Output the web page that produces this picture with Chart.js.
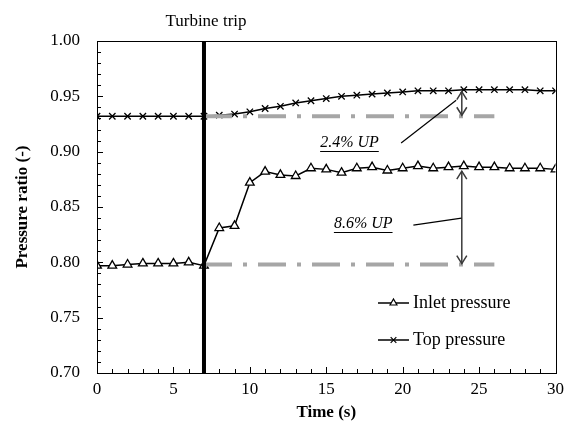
<!DOCTYPE html>
<html>
<head>
<meta charset="utf-8">
<script src="https://cdn.jsdelivr.net/npm/chart.js@4.4.1/dist/chart.umd.min.js"></script>
<style>
  html, body { margin: 0; padding: 0; background: #ffffff; }
  #wrap { width: 570px; height: 427px; position: relative; }
</style>
</head>
<body>
<div id="wrap"><canvas id="c" width="570" height="427"></canvas></div>
<script>
// ---- data ----
const timeSec = [0,1,2,3,4,5,6,7,8,9,10,11,12,13,14,15,16,17,18,19,20,21,22,23,24,25,26,27,28,29,30];
const inletPressure = [0.797,0.797,0.798,0.799,0.799,0.799,0.800,0.797,0.831,0.833,0.872,0.882,0.879,0.878,0.885,0.884,0.881,0.885,0.886,0.883,0.885,0.887,0.885,0.886,0.887,0.886,0.886,0.885,0.885,0.885,0.884];
const topPressure = [0.932,0.932,0.932,0.932,0.932,0.932,0.932,0.932,0.933,0.934,0.936,0.939,0.941,0.944,0.946,0.948,0.950,0.951,0.952,0.953,0.954,0.955,0.955,0.955,0.956,0.956,0.956,0.956,0.956,0.955,0.955];
const seriesNames = ["Inlet pressure", "Top pressure"];
const tripTime = 7;
const tripLabel = "Turbine trip";
const refStart = [7, 26];            // time span of the dash-dot reference lines
const refTop = 0.932;
const refInlet = 0.798;
const arrowTime = 24;
const upLabels = ["2.4% UP", "8.6% UP"];
const upLabelPos = [[14.6, 0.9078], [15.5, 0.8346]];     // [time, value] left edge / middle of each label
const leaderTop = [[19.9, 0.9078], [23.5, 0.9465]];
const leaderInlet = [[20.7, 0.8337], [23.85, 0.840]];
const xTickLabels = ["0","5","10","15","20","25","30"];
const yTickLabels = ["0.70","0.75","0.80","0.85","0.90","0.95","1.00"];

const pts = (xs, ys) => xs.map((x, i) => ({x: x, y: ys[i]}));
const SERIF = "'Liberation Serif', 'Times New Roman', serif";

const decor = {
  id: 'decor',
  afterDatasetsDraw(chart) {
    const ctx = chart.ctx, xs = chart.scales.x, ys = chart.scales.y, a = chart.chartArea;
    const X = v => xs.getPixelForValue(v), Y = v => ys.getPixelForValue(v);
    ctx.save();
    // frame
    ctx.strokeStyle = '#000'; ctx.lineWidth = 1;
    ctx.strokeRect(Math.round(a.left) + 0.5, Math.round(a.top) + 0.5, Math.round(a.right - a.left), Math.round(a.bottom - a.top));
    // inward ticks
    ctx.beginPath();
    for (let t = 0; t <= 30; t++) {
      const px = Math.round(X(t)) + 0.5, len = (t % 5 === 0) ? 6 : 4;
      ctx.moveTo(px, a.bottom); ctx.lineTo(px, a.bottom - len);
    }
    for (let k = 0; k <= 30; k++) {
      const v = 0.70 + k * 0.01, py = Math.round(Y(v)) + 0.5, len = (k % 5 === 0) ? 6 : 4;
      ctx.moveTo(a.left, py); ctx.lineTo(a.left + len, py);
    }
    ctx.stroke();
    // turbine trip line
    ctx.strokeStyle = '#000'; ctx.lineWidth = 4;
    ctx.beginPath(); ctx.moveTo(X(tripTime), a.top); ctx.lineTo(X(tripTime), a.bottom); ctx.stroke();
    ctx.fillStyle = '#000'; ctx.font = '17px ' + SERIF; ctx.textAlign = 'center'; ctx.textBaseline = 'alphabetic';
    ctx.fillText(tripLabel, X(tripTime) + 2, a.top - 15);
    // double arrows
    function arrow(x, y1, y2) {
      ctx.strokeStyle = '#3a3a3a'; ctx.lineWidth = 1.5;
      ctx.beginPath(); ctx.moveTo(x, y1); ctx.lineTo(x, y2); ctx.stroke();
      const h = 8, w = 5;
      ctx.beginPath();
      ctx.moveTo(x - w, y1 + h); ctx.lineTo(x, y1); ctx.lineTo(x + w, y1 + h);
      ctx.moveTo(x - w, y2 - h); ctx.lineTo(x, y2); ctx.lineTo(x + w, y2 - h);
      ctx.stroke();
    }
    arrow(X(arrowTime) - 2, Y(topPressure[timeSec.indexOf(arrowTime)]) + 2, Y(refTop) - 1);
    arrow(X(arrowTime) - 2, Y(inletPressure[timeSec.indexOf(arrowTime)]) + 5, Y(refInlet) - 1);
    // leader lines
    ctx.strokeStyle = '#000'; ctx.lineWidth = 1.2;
    [leaderTop, leaderInlet].forEach(l => {
      ctx.beginPath(); ctx.moveTo(X(l[0][0]), Y(l[0][1])); ctx.lineTo(X(l[1][0]), Y(l[1][1])); ctx.stroke();
    });
    // labels (italic, underlined)
    ctx.font = 'italic 16px ' + SERIF; ctx.textAlign = 'left'; ctx.textBaseline = 'middle'; ctx.fillStyle = '#000';
    upLabels.forEach((s, i) => {
      const lx = X(upLabelPos[i][0]), ly = Y(upLabelPos[i][1]);
      ctx.fillText(s, lx, ly);
      const w = ctx.measureText(s).width;
      ctx.lineWidth = 1; ctx.beginPath(); ctx.moveTo(lx, Math.round(ly + 8) + 0.5); ctx.lineTo(lx + w, Math.round(ly + 8) + 0.5); ctx.stroke();
    });
    // legend
    const ds = chart.data.datasets;
    ctx.font = '18px ' + SERIF; ctx.textBaseline = 'middle';
    [2, 3].forEach((i, k) => {
      const ly = a.top + 262 + k * 37, lx0 = 378, lx1 = 409;
      ctx.strokeStyle = '#000'; ctx.lineWidth = 1.5;
      ctx.beginPath(); ctx.moveTo(lx0, ly); ctx.lineTo(lx1, ly); ctx.stroke();
      ctx.fillStyle = '#fff'; ctx.lineWidth = 1.2;
      Chart.helpers.drawPoint(ctx, {pointStyle: ds[i].pointStyle, radius: 4, borderWidth: 1.2, rotation: 0}, (lx0 + lx1) / 2, ly);
      ctx.fillStyle = '#000';
      ctx.fillText(seriesNames[k], lx1 + 4, ly);
    });
    ctx.restore();
  }
};

new Chart(document.getElementById('c'), {
  type: 'line',
  data: {
    datasets: [
      { label: 'ref top', data: pts(refStart, [refTop, refTop]), borderColor: '#a6a6a6', borderWidth: 4,
        borderDash: [28, 11, 4, 11], pointRadius: 0, order: 0 },
      { label: 'ref inlet', data: pts(refStart, [refInlet, refInlet]), borderColor: '#a6a6a6', borderWidth: 4,
        borderDash: [28, 11, 4, 11], pointRadius: 0, order: 0 },
      { label: seriesNames[0], data: pts(timeSec, inletPressure), borderColor: '#000', borderWidth: 1.5,
        pointStyle: 'triangle', pointRadius: 5, pointBorderWidth: 1.3, pointBackgroundColor: '#fff', pointBorderColor: '#000', order: 1 },
      { label: seriesNames[1], data: pts(timeSec, topPressure), borderColor: '#000', borderWidth: 1.5,
        pointStyle: 'crossRot', pointRadius: 4.5, pointBorderWidth: 1.3, pointBackgroundColor: '#fff', pointBorderColor: '#000', order: 1 }
    ]
  },
  options: {
    responsive: false,
    animation: false,
    layout: { padding: { top: 41, right: 9, left: 0, bottom: 0 } },
    plugins: { legend: { display: false }, tooltip: { enabled: false } },
    scales: {
      x: {
        type: 'linear', min: 0, max: 30,
        afterBuildTicks: s => { s.ticks = xTickLabels.map(v => ({value: Number(v)})); },
        ticks: { color: '#000', font: { family: SERIF, size: 17 }, padding: 6, maxRotation: 0,
                 callback: (v) => xTickLabels.find(l => Number(l) === v) },
        grid: { display: false, drawTicks: false },
        border: { display: false },
        title: { display: true, text: 'Time (s)', color: '#000', font: { family: SERIF, size: 17, weight: 'bold' }, padding: { top: 0 } },
        afterFit: s => { s.height = 54; }
      },
      y: {
        min: 0.70, max: 1.00,
        afterBuildTicks: s => { s.ticks = yTickLabels.map(v => ({value: Number(v)})); },
        ticks: { color: '#000', font: { family: SERIF, size: 17 }, padding: 17,
                 callback: (v) => yTickLabels.find(l => Math.abs(Number(l) - v) < 1e-6) },
        grid: { display: false, drawTicks: false },
        border: { display: false },
        title: { display: true, text: 'Pressure ratio (-)', color: '#000', font: { family: SERIF, size: 17, weight: 'bold' }, padding: { top: 12, bottom: 4 } },
        afterFit: s => { s.width = 97; }
      }
    }
  },
  plugins: [decor]
});
</script>
</body>
</html>
